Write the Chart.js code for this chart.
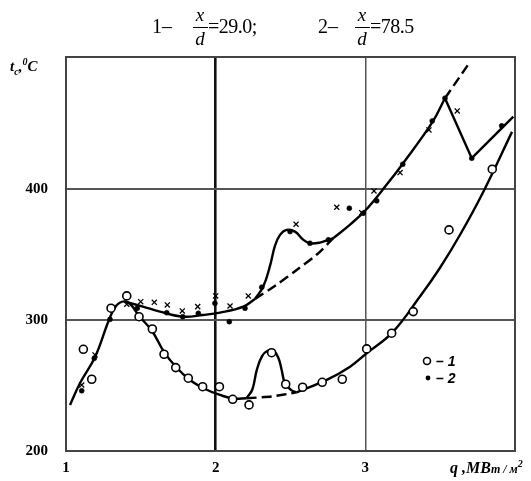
<!DOCTYPE html>
<html><head><meta charset="utf-8">
<script src="https://cdn.jsdelivr.net/npm/chart.js@4.4.1/dist/chart.umd.min.js"></script>
<style>
html,body{margin:0;padding:0;background:#fff;}
#wrap{position:relative;width:531px;height:481px;overflow:hidden;}
#c{position:absolute;left:0;top:0;}
.t{position:absolute;font-family:"Liberation Serif","Times New Roman",serif;color:#000;white-space:nowrap;line-height:1;}
.frac{position:absolute;width:16px;text-align:center;font-family:"Liberation Serif",serif;font-style:italic;font-size:19px;line-height:1;}
.bar{position:absolute;height:1.3px;background:#000;}
.lg{position:absolute;font-family:"Liberation Sans",Arial,sans-serif;font-style:italic;font-weight:bold;font-size:14px;line-height:1;}
</style></head><body>
<div id="wrap">
<canvas id="c" width="531" height="481"></canvas>
<div class="t" style="left:152px;top:16px;font-size:20px;">1–</div>
<div class="frac" style="left:192px;top:5px;">x</div>
<div class="bar" style="left:193px;top:27px;width:15px;"></div>
<div class="frac" style="left:192px;top:29px;">d</div>
<div class="t" style="left:208px;top:16px;font-size:20px;letter-spacing:-0.5px;">=29.0;</div>
<div class="t" style="left:318px;top:16px;font-size:20px;">2–</div>
<div class="frac" style="left:354px;top:5px;">x</div>
<div class="bar" style="left:355px;top:27px;width:15px;"></div>
<div class="frac" style="left:354px;top:29px;">d</div>
<div class="t" style="left:370px;top:16px;font-size:20px;letter-spacing:-0.5px;">=78.5</div>
<div class="t" style="left:10px;top:57px;font-size:15px;font-weight:bold;font-style:italic;">t<sub style="font-size:10px;">c</sub>,<sup style="font-size:10px;">0</sup>C</div>
<div class="t" style="left:450px;top:459px;font-size:16px;font-weight:bold;font-style:italic;">q ,MB<span style="font-size:12px;">т / м</span><sup style="font-size:10px;">2</sup></div>
<div class="lg" style="left:436px;top:354px;">– 1</div>
<div class="lg" style="left:436px;top:371px;">– 2</div>
</div>
<script>
// ---- data ----
const xTicks = [1, 2, 3, 4];
const xTickLabels = ['1', '2', '3', ''];
const yTicks = [200, 300, 400];

// series 1 (x/d = 29.0) open circles
const series1Circles = [[1.116,277.7],[1.172,254.8],[1.301,309.1],[1.406,318.5],[1.488,302.6],[1.577,293.2],[1.655,273.9],[1.733,263.7],[1.817,255.6],[1.913,249.1],[2.025,249.1],[2.114,239.5],[2.223,235.2],[2.374,275.1],[2.468,251.0],[2.581,248.7],[2.712,252.5],[2.846,254.8],[3.009,278.0],[3.176,290.0],[3.32,306.5],[3.559,368.9],[3.848,415.3]];
// series 2 (x/d = 78.5) dots
const series2Dots = [[1.105,246.1],[1.189,270.8],[1.294,300.6],[1.476,309.1],[1.673,305.7],[1.78,302.6],[1.884,305.2],[1.995,312.9],[2.091,298.8],[2.196,309.1],[2.308,325.1],[2.497,367.6],[2.63,358.7],[2.753,361.3],[2.893,385.5],[2.986,381.7],[3.076,391.1],[3.25,419.1],[3.447,452.2],[3.532,469.5],[3.711,423.7],[3.911,448.4]];
// series 2 crosses
const series2Crosses = [[1.105,250.4],[1.194,273.4],[1.406,312.1],[1.499,314.1],[1.59,313.6],[1.677,311.6],[1.777,307],[1.88,310.3],[2.0,318.5],[2.096,310.8],[2.218,318.5],[2.537,373.3],[2.809,386.2],[2.976,382.1],[3.058,398.7],[3.232,412.7],[3.425,445.3],[3.614,459.8]];

// curves
const curve1Left = [[1.027,235.2],[1.094,252.0],[1.194,271.8],[1.287,300.1],[1.334,310.8],[1.388,314.3],[1.434,311.6],[1.488,303.2],[1.575,291.7],[1.655,275.7],[1.735,264.2],[1.828,254.3],[1.929,247.4],[2.029,242.8],[2.116,240.1],[2.207,240.3]];
const curve1Bump = [[2.207,240.3],[2.245,247],[2.275,262],[2.31,272.5],[2.35,276.8],[2.385,276.5],[2.418,271.5],[2.441,261.9],[2.463,251.7],[2.505,246.5],[2.541,244.8]];
const curve1Dashed = [[2.207,240.3],[2.376,241.7],[2.541,244.8]];
const curve1Right = [[2.541,244.8],[2.742,254.3],[2.898,264.4],[3.009,274.7],[3.178,290.2],[3.365,318],[3.499,340],[3.632,365],[3.786,397.5],[3.98,443.8]];
const curve2Main = [[1.388,314.3],[1.514,310.3],[1.628,306.5],[1.782,302.6],[1.915,303.9],[2.029,305.7],[2.185,310.3],[2.263,316.2]];
const curve2Bump = [[2.263,316.2],[2.318,325.6],[2.363,341.4],[2.396,356.7],[2.43,365.1],[2.474,368.9],[2.53,367.6],[2.586,361.3],[2.63,358.7],[2.697,359.2],[2.753,361.3],[2.786,362.6]];
const curve2Dashed = [[2.263,316.2],[2.40,326.5],[2.55,339],[2.68,350.5],[2.786,362.6]];
const curve2Upper = [[2.786,362.6],[2.898,373],[2.998,383.5],[3.143,403.5],[3.25,419.5],[3.447,451],[3.532,469.5]];
const curve2DashExt = [[3.532,469.5],[3.686,495]];
const curve2Drop = [[3.532,469.5],[3.711,423.7],[3.989,455.5]];

const pts = a => a.map(p => ({x: p[0], y: p[1]}));
const lineDs = (d, dash, tension) => ({
  data: pts(d), showLine: true, borderColor: '#000', borderWidth: 2.4,
  borderDash: dash || [], pointRadius: 0, tension: tension === undefined ? 0.4 : tension,
  fill: false, order: 2
});

const framePlugin = {
  id: 'frame',
  beforeDatasetsDraw(chart) {
    const a = chart.chartArea, ctx = chart.ctx;
    ctx.save();
    ctx.strokeStyle = '#444';
    ctx.lineWidth = 2;
    ctx.strokeRect(a.left, a.top, a.right - a.left, a.bottom - a.top);
    ctx.restore();
  }
};
const legendPlugin = {
  id: 'markLegend',
  afterDraw(chart) {
    const ctx = chart.ctx;
    ctx.save();
    ctx.strokeStyle = '#000'; ctx.lineWidth = 1.6; ctx.fillStyle = '#fff';
    ctx.beginPath(); ctx.arc(427, 361, 3.5, 0, Math.PI * 2); ctx.fill(); ctx.stroke();
    ctx.fillStyle = '#000';
    ctx.beginPath(); ctx.arc(428, 378, 2.4, 0, Math.PI * 2); ctx.fill();
    ctx.restore();
  }
};

new Chart(document.getElementById('c'), {
  type: 'scatter',
  data: {
    datasets: [
      {data: pts(series1Circles), pointStyle: 'circle', pointRadius: 4, pointBackgroundColor: '#fff', pointBorderColor: '#000', pointBorderWidth: 1.6, showLine: false, order: 0},
      {data: pts(series2Dots), pointStyle: 'circle', pointRadius: 2.5, pointBackgroundColor: '#000', pointBorderColor: '#000', pointBorderWidth: 0.5, showLine: false, order: 0},
      {data: pts(series2Crosses), pointStyle: 'crossRot', pointRadius: 3.6, pointBorderColor: '#000', pointBorderWidth: 1.3, showLine: false, order: 0},
      lineDs(curve1Left),
      lineDs(curve1Bump),
      lineDs(curve1Dashed, [10, 5], 0.2),
      lineDs(curve1Right),
      lineDs(curve2Main),
      lineDs(curve2Bump),
      lineDs(curve2Dashed, [10, 5], 0.3),
      lineDs(curve2Upper),
      lineDs(curve2DashExt, [10, 5], 0),
      lineDs(curve2Drop, [], 0)
    ]
  },
  options: {
    responsive: false,
    animation: false,
    events: [],
    layout: {padding: {top: 57, right: 16, left: 0, bottom: 0}},
    plugins: {legend: {display: false}, tooltip: {enabled: false}, title: {display: false}},
    scales: {
      x: {
        type: 'linear', min: 1, max: 4,
        afterFit(s) { s.height = 30; },
        afterBuildTicks(s) { s.ticks = xTicks.map(v => ({value: v})); },
        ticks: {
          padding: 8, color: '#000', maxRotation: 0, autoSkip: false,
          font: {family: '"Liberation Serif", serif', size: 15, weight: 'bold'},
          callback: (v) => xTickLabels[xTicks.indexOf(v)] ?? ''
        },
        grid: {
          drawTicks: false,
          color: c => c.tick && c.tick.value === 2 ? '#111' : '#555',
          lineWidth: c => c.tick && c.tick.value === 2 ? 2.6 : (c.tick && c.tick.value === 3 ? 1.5 : 2)
        },
        border: {color: '#444', width: 2}
      },
      y: {
        type: 'linear', min: 200, max: 501,
        afterFit(s) { s.width = 66; },
        afterBuildTicks(s) { s.ticks = yTicks.map(v => ({value: v})); },
        ticks: {
          padding: 18, color: '#000',
          font: {family: '"Liberation Serif", serif', size: 15, weight: 'bold'},
          callback: v => String(v)
        },
        grid: {drawTicks: false, color: '#555', lineWidth: 2},
        border: {color: '#444', width: 2}
      }
    }
  },
  plugins: [framePlugin, legendPlugin]
});
</script>
</body></html>
